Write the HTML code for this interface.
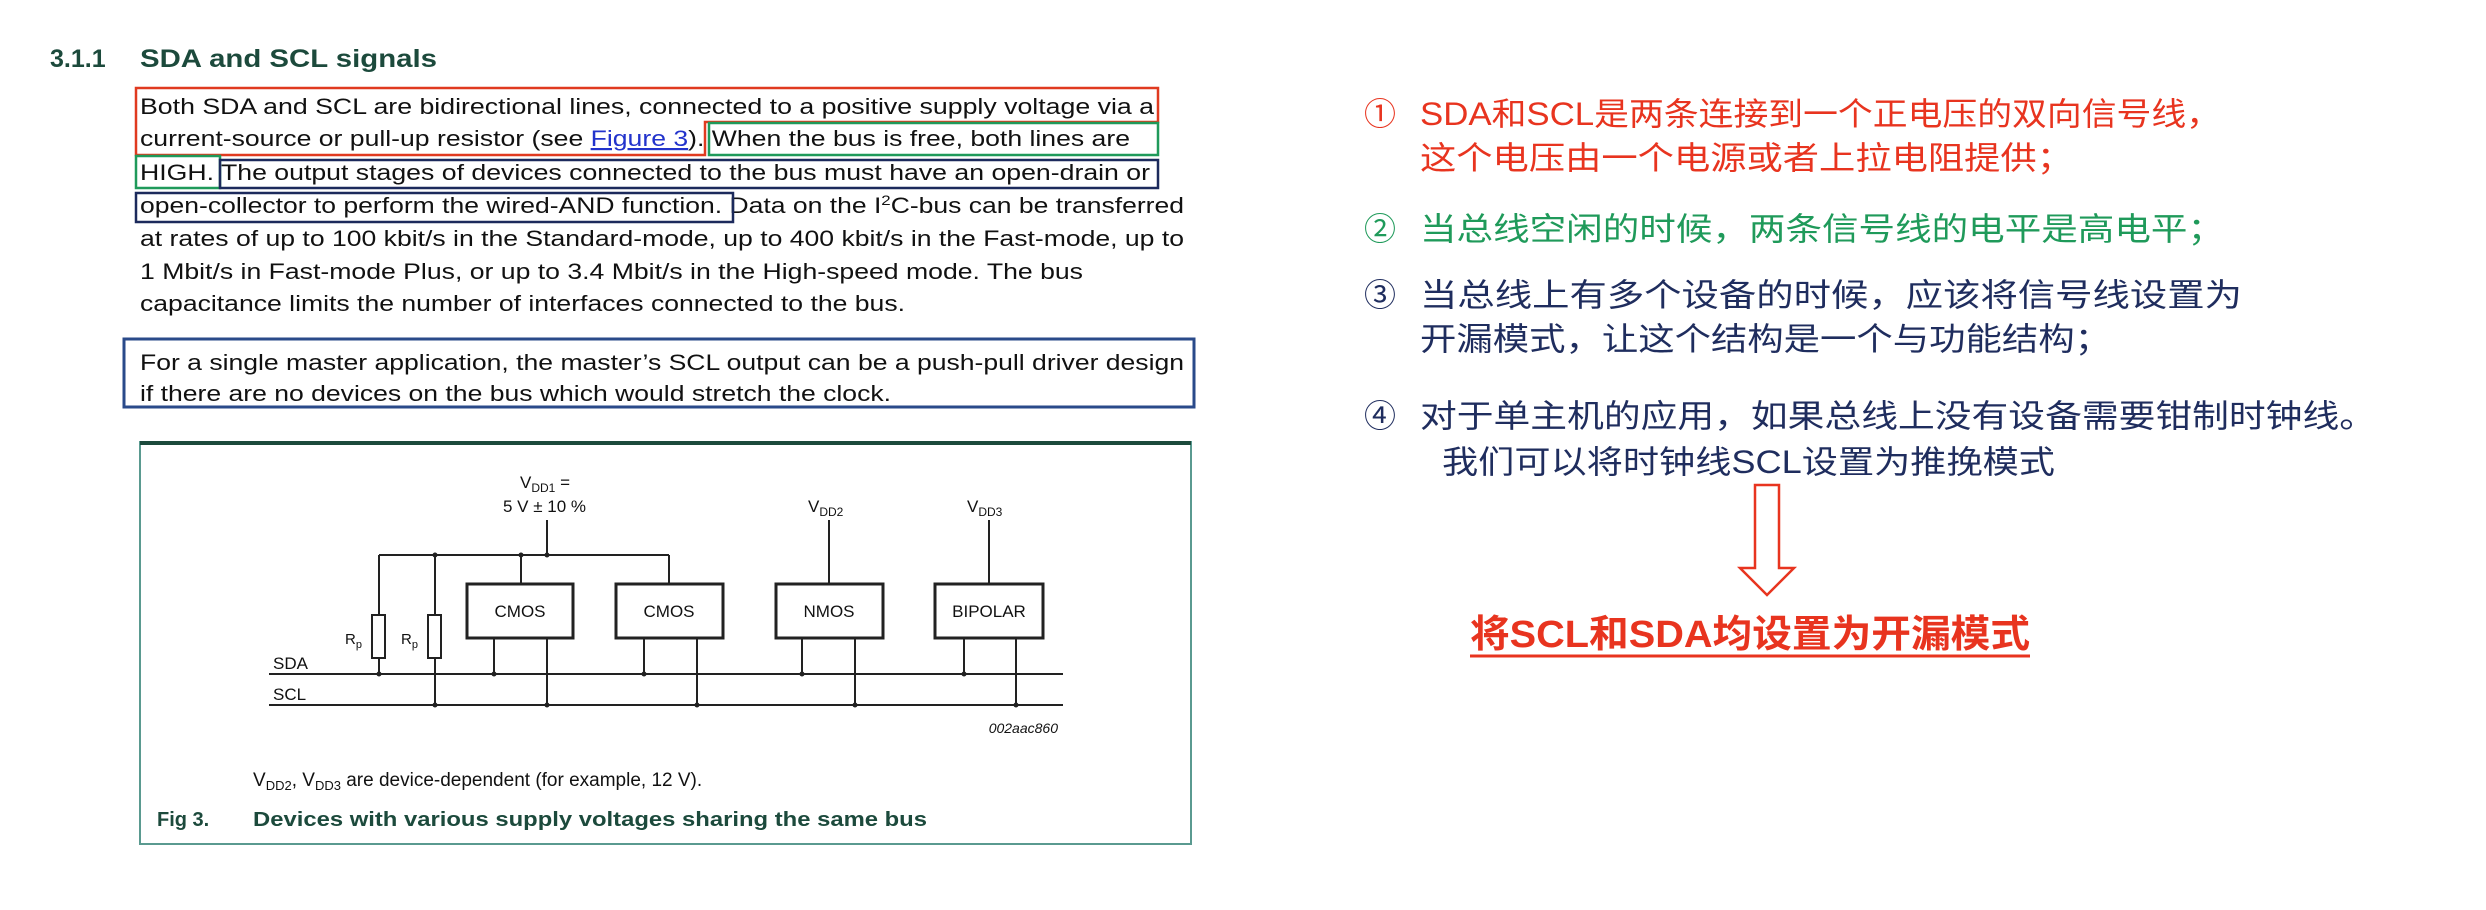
<!DOCTYPE html>
<html><head><meta charset="utf-8"><style>
html,body{margin:0;padding:0;background:#fff;}
svg{display:block;}
.b{font-family:"Liberation Sans",Arial,sans-serif;font-size:22px;fill:#111;}
.c{font-family:"Liberation Sans","Noto Sans CJK SC",sans-serif;font-size:32px;}
.f{font-family:"Liberation Sans",Arial,sans-serif;fill:#111;}
</style></head><body>
<svg width="2486" height="910" viewBox="0 0 2486 910" xmlns="http://www.w3.org/2000/svg">
<rect width="2486" height="910" fill="#fff"/>
<!-- heading -->
<text x="50" y="67" font-family="Liberation Sans,sans-serif" font-size="25" font-weight="bold" fill="#1c4a3c">3.1.1</text>
<text x="140" y="67" font-family="Liberation Sans,sans-serif" font-size="25" font-weight="bold" fill="#1c4a3c" textLength="297" lengthAdjust="spacingAndGlyphs">SDA and SCL signals</text>
<!-- paragraph 1 -->
<text class="b" x="140" y="114" textLength="1014" lengthAdjust="spacingAndGlyphs">Both SDA and SCL are bidirectional lines, connected to a positive supply voltage via a</text>
<text class="b" x="140" y="146" textLength="990" lengthAdjust="spacingAndGlyphs">current-source or pull-up resistor (see <tspan fill="#2233cc" text-decoration="underline">Figure 3</tspan>). When the bus is free, both lines are</text>
<text class="b" x="140" y="180" textLength="1010" lengthAdjust="spacingAndGlyphs">HIGH. The output stages of devices connected to the bus must have an open-drain or</text>
<text class="b" x="140" y="213" textLength="1044" lengthAdjust="spacingAndGlyphs">open-collector to perform the wired-AND function. Data on the I<tspan font-size="14" dy="-8">2</tspan><tspan dy="8">C-bus can be transferred</tspan></text>
<text class="b" x="140" y="246" textLength="1044" lengthAdjust="spacingAndGlyphs">at rates of up to 100 kbit/s in the Standard-mode, up to 400 kbit/s in the Fast-mode, up to</text>
<text class="b" x="140" y="279" textLength="943" lengthAdjust="spacingAndGlyphs">1 Mbit/s in Fast-mode Plus, or up to 3.4 Mbit/s in the High-speed mode. The bus</text>
<text class="b" x="140" y="311" textLength="765" lengthAdjust="spacingAndGlyphs">capacitance limits the number of interfaces connected to the bus.</text>
<text class="b" x="140" y="370" textLength="1044" lengthAdjust="spacingAndGlyphs">For a single master application, the master’s SCL output can be a push-pull driver design</text>
<text class="b" x="140" y="401" textLength="751" lengthAdjust="spacingAndGlyphs">if there are no devices on the bus which would stretch the clock.</text>
<!-- boxes -->
<g fill="none" stroke-width="2.5">
<path d="M136 88 H1158 V122 H705 V155 H136 Z" stroke="#e03a20"/>
<path d="M709 123 H1158 V155 H709 Z M136 156 H220 V188 H136 Z" stroke="#1f9a5a"/>
<path d="M220 160 H1158 V188 H220 Z M136 193 H733 V222 H136 Z" stroke="#1c2a5c"/>
<rect x="124" y="339" width="1070" height="68" stroke="#2a4a8a" stroke-width="3"/>
</g>
<!-- figure box -->
<rect x="140" y="442" width="1051" height="402" fill="none" stroke="#5a9a90" stroke-width="2"/>
<line x1="140" y1="443" x2="1191" y2="443" stroke="#1c4a3c" stroke-width="4"/>
<g stroke="#222" stroke-width="2" fill="none">
<line x1="547" y1="520" x2="547" y2="555"/>
<line x1="379" y1="555" x2="669" y2="555"/>
<line x1="379" y1="555" x2="379" y2="615"/><rect x="372" y="615" width="13" height="43"/><line x1="379" y1="658" x2="379" y2="674"/>
<line x1="435" y1="555" x2="435" y2="615"/><rect x="428" y="615" width="13" height="43"/><line x1="435" y1="658" x2="435" y2="705"/>
<line x1="521" y1="555" x2="521" y2="584"/>
<line x1="669" y1="555" x2="669" y2="584"/>
<line x1="829" y1="520" x2="829" y2="584"/>
<line x1="989" y1="520" x2="989" y2="584"/>
<line x1="269" y1="674" x2="1063" y2="674"/>
<line x1="269" y1="705" x2="1063" y2="705"/>
<line x1="494" y1="638" x2="494" y2="674"/><line x1="547" y1="638" x2="547" y2="705"/>
<line x1="644" y1="638" x2="644" y2="674"/><line x1="697" y1="638" x2="697" y2="705"/>
<line x1="802" y1="638" x2="802" y2="674"/><line x1="855" y1="638" x2="855" y2="705"/>
<line x1="964" y1="638" x2="964" y2="674"/><line x1="1016" y1="638" x2="1016" y2="705"/>
</g>
<g stroke="#222" stroke-width="3" fill="#fff">
<rect x="467" y="584" width="106" height="54"/>
<rect x="616" y="584" width="107" height="54"/>
<rect x="776" y="584" width="107" height="54"/>
<rect x="935" y="584" width="108" height="54"/>
</g>
<g fill="#222">
<circle cx="435" cy="555" r="2.5"/><circle cx="521" cy="555" r="2.5"/><circle cx="547" cy="555" r="2.5"/>
<circle cx="379" cy="674" r="2.5"/><circle cx="494" cy="674" r="2.5"/><circle cx="644" cy="674" r="2.5"/><circle cx="802" cy="674" r="2.5"/><circle cx="964" cy="674" r="2.5"/>
<circle cx="435" cy="705" r="2.5"/><circle cx="547" cy="705" r="2.5"/><circle cx="697" cy="705" r="2.5"/><circle cx="855" cy="705" r="2.5"/><circle cx="1016" cy="705" r="2.5"/>
</g>
<g class="f">
<text x="520" y="488" font-size="17">V<tspan font-size="12" dy="4">DD1</tspan><tspan dy="-4"> =</tspan></text>
<text x="503" y="512" font-size="17">5 V ± 10 %</text>
<text x="808" y="512" font-size="17">V<tspan font-size="12" dy="4">DD2</tspan></text>
<text x="967" y="512" font-size="17">V<tspan font-size="12" dy="4">DD3</tspan></text>
<text x="345" y="644" font-size="15">R<tspan font-size="11" dy="4">p</tspan></text>
<text x="401" y="644" font-size="15">R<tspan font-size="11" dy="4">p</tspan></text>
<text x="273" y="669" font-size="17">SDA</text>
<text x="273" y="700" font-size="17">SCL</text>
<text x="520" y="617" font-size="17" text-anchor="middle">CMOS</text>
<text x="669" y="617" font-size="17" text-anchor="middle">CMOS</text>
<text x="829" y="617" font-size="17" text-anchor="middle">NMOS</text>
<text x="989" y="617" font-size="17" text-anchor="middle">BIPOLAR</text>
<text x="1058" y="733" font-size="14" font-style="italic" text-anchor="end">002aac860</text>
<text x="253" y="786" font-size="19">V<tspan font-size="13" dy="4">DD2</tspan><tspan dy="-4">, V</tspan><tspan font-size="13" dy="4">DD3</tspan><tspan dy="-4"> are device-dependent (for example, 12 V).</tspan></text>
<text x="157" y="826" font-size="20" font-weight="bold" fill="#1c4a3c">Fig 3.</text>
<text x="253" y="826" font-size="20" font-weight="bold" fill="#1c4a3c" textLength="674" lengthAdjust="spacingAndGlyphs">Devices with various supply voltages sharing the same bus</text>
</g>
<!-- right side -->
<g class="c">
<text x="1364" y="125" fill="#e8341f">①</text>
<text x="1420" y="125" fill="#e8341f" textLength="801" lengthAdjust="spacingAndGlyphs">SDA和SCL是两条连接到一个正电压的双向信号线，</text>
<text x="1420" y="169" fill="#e8341f" textLength="653" lengthAdjust="spacingAndGlyphs">这个电压由一个电源或者上拉电阻提供；</text>
<text x="1364" y="240" fill="#1f9a5a">②</text>
<text x="1420" y="240" fill="#1f9a5a" textLength="804" lengthAdjust="spacingAndGlyphs">当总线空闲的时候，两条信号线的电平是高电平；</text>
<text x="1364" y="306" fill="#1f2d5e">③</text>
<text x="1420" y="306" fill="#1f2d5e" textLength="822" lengthAdjust="spacingAndGlyphs">当总线上有多个设备的时候，应该将信号线设置为</text>
<text x="1420" y="350" fill="#1f2d5e" textLength="691" lengthAdjust="spacingAndGlyphs">开漏模式，让这个结构是一个与功能结构；</text>
<text x="1364" y="427" fill="#1f2d5e">④</text>
<text x="1420" y="427" fill="#1f2d5e" textLength="956" lengthAdjust="spacingAndGlyphs">对于单主机的应用，如果总线上没有设备需要钳制时钟线。</text>
<text x="1442" y="473" fill="#1f2d5e" textLength="613" lengthAdjust="spacingAndGlyphs">我们可以将时钟线SCL设置为推挽模式</text>
</g>
<path d="M1755 485 H1779 V568 H1794 L1767 595 L1740 568 H1755 Z" fill="#fff" stroke="#e8341f" stroke-width="2.5"/>
<text x="1470" y="647" font-family="Liberation Sans,'Noto Sans CJK SC',sans-serif" font-size="38" font-weight="bold" fill="#e8341f" textLength="560" lengthAdjust="spacingAndGlyphs">将SCL和SDA均设置为开漏模式</text>
<line x1="1470" y1="656" x2="2030" y2="656" stroke="#e8341f" stroke-width="3"/>
</svg>
</body></html>
